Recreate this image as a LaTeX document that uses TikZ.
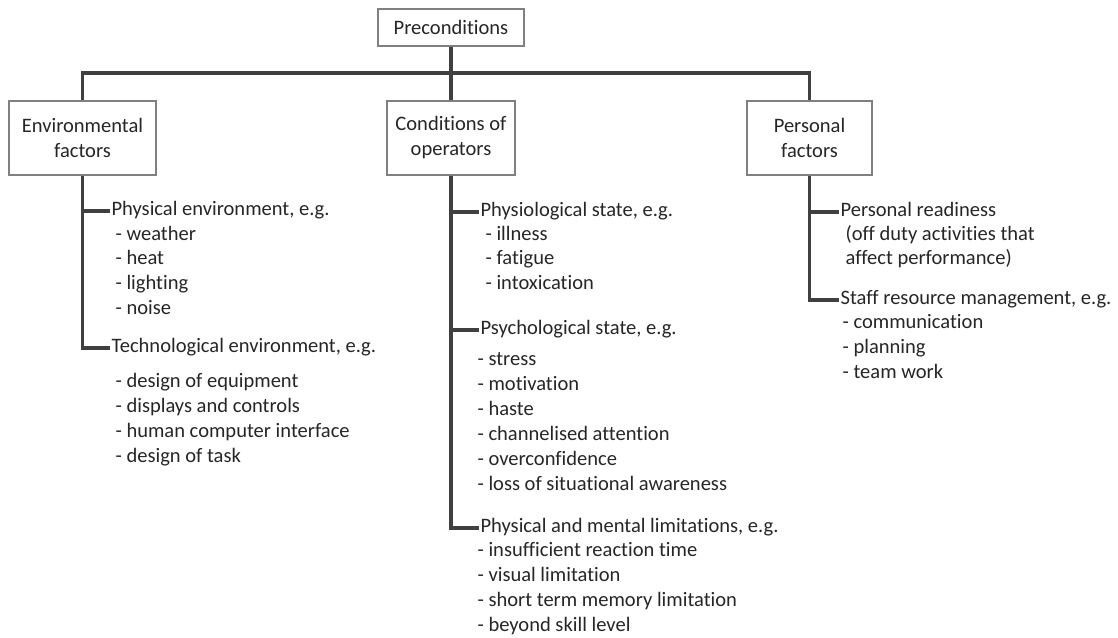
\documentclass[tikz,border=0pt]{standalone}
\usepackage{fontspec}
\setmainfont{Carlito}[Ligatures=NoCommon]
\definecolor{txt}{HTML}{262626}
\definecolor{ln}{HTML}{404040}
\definecolor{bd}{HTML}{808080}
\tikzset{
  base/.style={font=\fontsize{15.4pt}{18.75pt}\selectfont, text=txt},
  box/.style={base, draw=bd, line width=0.9pt, fill=white, align=center, inner sep=0pt},
  lbl/.style={base, anchor=west, inner xsep=1pt, inner ysep=0pt, text height=0.7em, text depth=0.06em},
  conn/.style={draw=ln, line width=2.3pt}
}
\begin{document}
\begin{tikzpicture}[x=0.75pt, y=-0.75pt]
\useasboundingbox (0,0) rectangle (1118,637);
% boxes
\node[box, minimum width=109.5pt, minimum height=27.75pt] (pre) at (451,27.5) {Preconditions};
\node[box, minimum width=110.25pt, minimum height=55.5pt] (env) at (82.5,138) {Environmental\\factors};
\node[box, minimum width=96pt, minimum height=55.5pt] (cond) at (451,138) {Conditions of\\operators};
\node[box, minimum width=93.75pt, minimum height=55.5pt] (pers) at (809.5,138) {Personal\\factors};
\coordinate (hl) at (0,73);

% environmental column
\node[lbl] (phys) at (110,211) {Physical environment, e.g.};
\node[lbl] (e1) at (114,236) {- weather};
\node[lbl] (e2) at (114,260) {- heat};
\node[lbl] (e3) at (114,285) {- lighting};
\node[lbl] (e4) at (114,310) {- noise};
\node[lbl] (tech) at (110,348) {Technological environment, e.g.};
\node[lbl] (t1) at (114,383) {- design of equipment};
\node[lbl] (t2) at (114,408) {- displays and controls};
\node[lbl] (t3) at (114,433) {- human computer interface};
\node[lbl] (t4) at (114,458) {- design of task};

% conditions column
\node[lbl] (physio) at (479,212) {Physiological state, e.g.};
\node[lbl] (c1) at (484,236) {- illness};
\node[lbl] (c2) at (484,260) {- fatigue};
\node[lbl] (c3) at (484,285) {- intoxication};
\node[lbl] (psych) at (479,330) {Psychological state, e.g.};
\node[lbl] (p1) at (476,361) {- stress};
\node[lbl] (p2) at (476,386) {- motivation};
\node[lbl] (p3) at (476,411) {- haste};
\node[lbl] (p4) at (476,436) {- channelised attention};
\node[lbl] (p5) at (476,461) {- overconfidence};
\node[lbl] (p6) at (476,486) {- loss of situational awareness};
\node[lbl] (pm) at (479,528) {Physical and mental limitations, e.g.};
\node[lbl] (m1) at (476,552) {- insufficient reaction time};
\node[lbl] (m2) at (476,577) {- visual limitation};
\node[lbl] (m3) at (476,602) {- short term memory limitation};
\node[lbl] (m4) at (476,627) {- beyond skill level};

% personal column
\node[lbl] (ready) at (839,212) {Personal readiness};
\node[lbl] (r1) at (844,236) {(off duty activities that};
\node[lbl] (r2) at (844,260) {affect performance)};
\node[lbl] (staff) at (839,300) {Staff resource management, e.g.};
\node[lbl] (s1) at (841,324) {- communication};
\node[lbl] (s2) at (841,349) {- planning};
\node[lbl] (s3) at (841,374) {- team work};

% connectors
\draw[conn] (pre.south) -- (cond.north);
\draw[conn] (env.north) -- (env.north |- hl) -- (pers.north |- hl) -- (pers.north);
\draw[conn] (env.south) |- (phys.west);
\draw[conn] (env.south) |- (tech.west);
\draw[conn] (cond.south) |- (physio.west);
\draw[conn] (cond.south) |- (psych.west);
\draw[conn] (cond.south) |- (pm.west);
\draw[conn] (pers.south) |- (ready.west);
\draw[conn] (pers.south) |- (staff.west);
\end{tikzpicture}
\end{document}
